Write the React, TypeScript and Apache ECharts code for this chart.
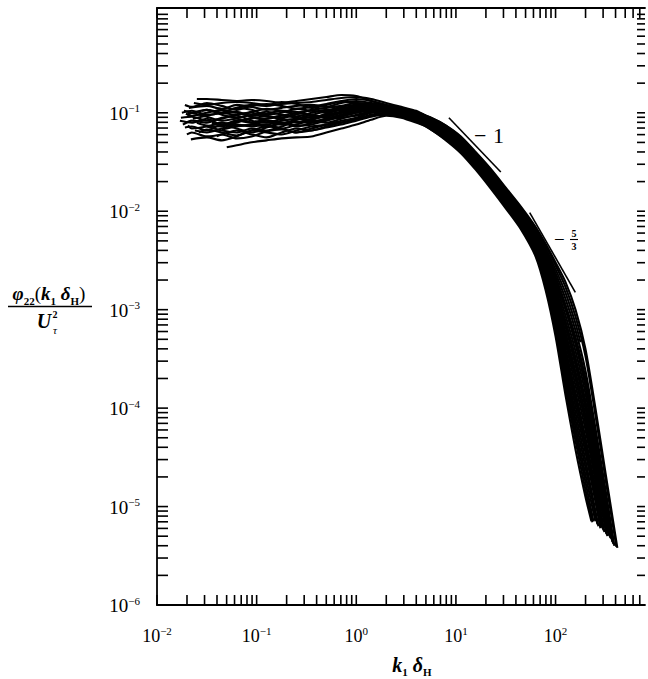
import React, { useEffect, useRef } from "react";
import * as echarts from "echarts";

const SERIF = '"Liberation Serif", "DejaVu Serif", serif';

// Axis ranges: k1·δH (x) and φ22/Uτ² (y)
const kRange = [0.01, 790];
const phiRange = [1e-6, 1.16];
const kLabelDecades = [-2, -1, 0, 1, 2];
const phiLabelDecades = [-6, -5, -4, -3, -2, -1];

// Reference slopes, as (k1δH, φ22/Uτ²) end points
const slopeMinusOne = [[8.5, 0.089], [28.2, 0.025]];
const slopeMinusFiveThirds = [[55, 0.0097], [158, 0.0015]];

// Spectra: each pair is (log10 k1δH, log10 φ22/Uτ²)
const run01 = [[-1.6,-0.86],[-1.5,-0.86],[-1.35,-0.87],[-1.2,-0.88],[-1.05,-0.87],[-0.9,-0.88],[-0.75,-0.9],[-0.6,-0.88],[-0.45,-0.86],[-0.3,-0.84],[-0.15,-0.82],[0,-0.83],[0.15,-0.88],[0.3,-0.92],[0.45,-0.95],[0.6,-1.0],[0.75,-1.05],[0.9,-1.13],[1.05,-1.25],[1.2,-1.41],[1.35,-1.58],[1.5,-1.77],[1.65,-1.96],[1.8,-2.17],[1.9,-2.35],[2.0,-2.55],[2.1,-2.77],[2.2,-3.07],[2.3,-3.47],[2.4,-4.07],[2.5,-4.71],[2.61,-5.41]];
const run02 = [[-1.3,-1.35],[-1.2,-1.33],[-1.05,-1.3],[-0.9,-1.28],[-0.75,-1.26],[-0.6,-1.25],[-0.45,-1.24],[-0.3,-1.2],[-0.15,-1.16],[0,-1.12],[0.15,-1.07],[0.3,-1.03],[0.45,-1.05],[0.6,-1.1],[0.75,-1.16],[0.9,-1.26],[1.05,-1.38],[1.2,-1.55],[1.35,-1.74],[1.5,-1.94],[1.65,-2.15],[1.8,-2.42],[1.9,-2.74],[2.0,-3.18],[2.1,-3.74],[2.2,-4.26],[2.3,-4.75],[2.38,-5.15]];
const run03 = [[-1.75,-1.0],[-1.65,-0.98],[-1.5,-1.02],[-1.35,-1.0],[-1.2,-0.95],[-1.05,-0.97],[-0.9,-1.02],[-0.75,-1.0],[-0.6,-0.96],[-0.45,-0.98],[-0.3,-1.0],[-0.15,-0.96],[0,-0.93],[0.15,-0.92],[0.3,-0.95],[0.45,-0.98],[0.6,-1.02],[0.75,-1.1],[0.9,-1.19],[1.05,-1.3],[1.2,-1.47],[1.35,-1.65],[1.5,-1.84],[1.65,-2.04],[1.8,-2.28],[1.9,-2.51],[2.0,-2.81],[2.1,-3.17],[2.2,-3.56],[2.3,-4.0],[2.4,-4.54],[2.5,-5.11],[2.53,-5.27]];
const run04 = [[-1.77,-1.08],[-1.65,-1.1],[-1.5,-1.06],[-1.35,-1.12],[-1.2,-1.1],[-1.05,-1.05],[-0.9,-1.08],[-0.75,-1.12],[-0.6,-1.07],[-0.45,-1.02],[-0.3,-1.05],[-0.15,-1.02],[0,-0.98],[0.15,-0.97],[0.3,-0.98],[0.45,-1.0],[0.6,-1.05],[0.75,-1.12],[0.9,-1.21],[1.05,-1.34],[1.2,-1.5],[1.35,-1.68],[1.5,-1.88],[1.65,-2.08],[1.8,-2.33],[1.9,-2.6],[2.0,-2.96],[2.1,-3.4],[2.2,-3.84],[2.3,-4.3],[2.4,-4.81],[2.48,-5.24]];
const run05 = [[-1.72,-1.15],[-1.65,-1.14],[-1.5,-1.18],[-1.35,-1.12],[-1.2,-1.16],[-1.05,-1.2],[-0.9,-1.15],[-0.75,-1.1],[-0.6,-1.13],[-0.45,-1.12],[-0.3,-1.08],[-0.15,-1.04],[0,-1.0],[0.15,-0.98],[0.3,-0.97],[0.45,-1.0],[0.6,-1.06],[0.75,-1.14],[0.9,-1.24],[1.05,-1.36],[1.2,-1.53],[1.35,-1.71],[1.5,-1.91],[1.65,-2.12],[1.8,-2.38],[1.9,-2.67],[2.0,-3.07],[2.1,-3.57],[2.2,-4.05],[2.3,-4.53],[2.43,-5.2]];
const run06 = [[-1.7,-1.22],[-1.65,-1.2],[-1.5,-1.24],[-1.35,-1.22],[-1.2,-1.18],[-1.05,-1.22],[-0.9,-1.25],[-0.75,-1.2],[-0.6,-1.16],[-0.45,-1.18],[-0.3,-1.14],[-0.15,-1.1],[0,-1.06],[0.15,-1.02],[0.3,-1.0],[0.45,-1.02],[0.6,-1.07],[0.75,-1.17],[0.9,-1.27],[1.05,-1.39],[1.2,-1.56],[1.35,-1.75],[1.5,-1.95],[1.65,-2.16],[1.8,-2.44],[1.9,-2.76],[2.0,-3.22],[2.1,-3.8],[2.2,-4.33],[2.3,-4.83],[2.37,-5.16]];
const run07 = [[-1.68,-0.95],[-1.5,-0.93],[-1.35,-0.96],[-1.2,-0.92],[-1.05,-0.94],[-0.9,-0.97],[-0.75,-0.95],[-0.6,-0.93],[-0.45,-0.92],[-0.3,-0.94],[-0.15,-0.9],[0,-0.88],[0.15,-0.9],[0.3,-0.93],[0.45,-0.96],[0.6,-1.0],[0.75,-1.07],[0.9,-1.15],[1.05,-1.27],[1.2,-1.43],[1.35,-1.6],[1.5,-1.79],[1.65,-1.98],[1.8,-2.21],[1.9,-2.4],[2.0,-2.63],[2.1,-2.89],[2.2,-3.21],[2.3,-3.62],[2.4,-4.2],[2.5,-4.82],[2.59,-5.4]];
const run08 = [[-1.74,-1.12],[-1.65,-1.08],[-1.5,-1.1],[-1.35,-1.05],[-1.2,-1.03],[-1.05,-1.08],[-0.9,-1.1],[-0.75,-1.06],[-0.6,-1.02],[-0.45,-1.05],[-0.3,-1.02],[-0.15,-0.99],[0,-0.97],[0.15,-0.95],[0.3,-0.96],[0.45,-0.99],[0.6,-1.04],[0.75,-1.11],[0.9,-1.2],[1.05,-1.32],[1.2,-1.49],[1.35,-1.67],[1.5,-1.86],[1.65,-2.06],[1.8,-2.31],[1.9,-2.56],[2.0,-2.89],[2.1,-3.29],[2.2,-3.7],[2.3,-4.15],[2.4,-4.68],[2.51,-5.28]];
const run09 = [[-1.66,-1.27],[-1.5,-1.25],[-1.35,-1.28],[-1.2,-1.24],[-1.05,-1.18],[-0.9,-1.2],[-0.75,-1.22],[-0.6,-1.18],[-0.45,-1.14],[-0.3,-1.12],[-0.15,-1.08],[0,-1.05],[0.15,-1.0],[0.3,-0.99],[0.45,-1.02],[0.6,-1.08],[0.75,-1.15],[0.9,-1.25],[1.05,-1.38],[1.2,-1.55],[1.35,-1.73],[1.5,-1.93],[1.65,-2.14],[1.8,-2.41],[1.9,-2.72],[2.0,-3.14],[2.1,-3.68],[2.2,-4.19],[2.3,-4.68],[2.4,-5.15]];
const run10 = [[-1.55,-0.98],[-1.5,-0.97],[-1.35,-1.0],[-1.2,-1.02],[-1.05,-0.99],[-0.9,-0.96],[-0.75,-0.98],[-0.6,-1.01],[-0.45,-0.97],[-0.3,-0.95],[-0.15,-0.93],[0,-0.9],[0.15,-0.91],[0.3,-0.94],[0.45,-0.97],[0.6,-1.01],[0.75,-1.08],[0.9,-1.17],[1.05,-1.28],[1.2,-1.44],[1.35,-1.62],[1.5,-1.81],[1.65,-2.0],[1.8,-2.24],[1.9,-2.45],[2.0,-2.71],[2.1,-3.0],[2.2,-3.35],[2.3,-3.78],[2.4,-4.34],[2.5,-4.94],[2.57,-5.36]];
const run11 = [[-1.76,-1.05],[-1.65,-1.04],[-1.5,-1.08],[-1.35,-1.06],[-1.2,-1.02],[-1.05,-1.0],[-0.9,-1.04],[-0.75,-1.05],[-0.6,-1.0],[-0.45,-0.98],[-0.3,-0.99],[-0.15,-0.95],[0,-0.94],[0.15,-0.93],[0.3,-0.95],[0.45,-0.98],[0.6,-1.03],[0.75,-1.09],[0.9,-1.18],[1.05,-1.3],[1.2,-1.46],[1.35,-1.64],[1.5,-1.83],[1.65,-2.03],[1.8,-2.27],[1.9,-2.49],[2.0,-2.78],[2.1,-3.12],[2.2,-3.49],[2.3,-3.93],[2.4,-4.48],[2.5,-5.06],[2.55,-5.32]];
const run12 = [[-1.62,-1.18],[-1.5,-1.2],[-1.35,-1.16],[-1.2,-1.12],[-1.05,-1.14],[-0.9,-1.12],[-0.75,-1.16],[-0.6,-1.12],[-0.45,-1.08],[-0.3,-1.1],[-0.15,-1.06],[0,-1.02],[0.15,-0.99],[0.3,-0.98],[0.45,-1.01],[0.6,-1.06],[0.75,-1.13],[0.9,-1.23],[1.05,-1.35],[1.2,-1.52],[1.35,-1.7],[1.5,-1.9],[1.65,-2.1],[1.8,-2.36],[1.9,-2.65],[2.0,-3.03],[2.1,-3.51],[2.2,-3.98],[2.3,-4.45],[2.4,-4.95],[2.45,-5.22]];
const run13 = [[-1.45,-1.1],[-1.35,-1.12],[-1.2,-1.08],[-1.05,-1.1],[-0.9,-1.06],[-0.75,-1.03],[-0.6,-1.05],[-0.45,-1.07],[-0.3,-1.03],[-0.15,-1.0],[0,-0.96],[0.15,-0.94],[0.3,-0.96],[0.45,-0.99],[0.6,-1.04],[0.75,-1.1],[0.9,-1.2],[1.05,-1.31],[1.2,-1.48],[1.35,-1.66],[1.5,-1.85],[1.65,-2.05],[1.8,-2.29],[1.9,-2.53],[2.0,-2.85],[2.1,-3.23],[2.2,-3.63],[2.3,-4.07],[2.4,-4.61],[2.52,-5.27]];
const run14 = [[-1.72,-0.92],[-1.65,-0.94],[-1.5,-0.9],[-1.35,-0.93],[-1.2,-0.97],[-1.05,-0.93],[-0.9,-0.91],[-0.75,-0.93],[-0.6,-0.96],[-0.45,-0.94],[-0.3,-0.91],[-0.15,-0.88],[0,-0.86],[0.15,-0.88],[0.3,-0.92],[0.45,-0.95],[0.6,-0.99],[0.75,-1.05],[0.9,-1.13],[1.05,-1.24],[1.2,-1.4],[1.35,-1.57],[1.5,-1.76],[1.65,-1.95],[1.8,-2.16],[1.9,-2.33],[2.0,-2.52],[2.1,-2.72],[2.2,-3.0],[2.3,-3.4],[2.4,-4.0],[2.5,-4.65],[2.62,-5.42]];
const run15 = [[-1.58,-1.2],[-1.5,-1.17],[-1.35,-1.2],[-1.2,-1.23],[-1.05,-1.18],[-0.9,-1.14],[-0.75,-1.16],[-0.6,-1.2],[-0.45,-1.16],[-0.3,-1.12],[-0.15,-1.1],[0,-1.07],[0.15,-1.03],[0.3,-1.01],[0.45,-1.03],[0.6,-1.08],[0.75,-1.15],[0.9,-1.24],[1.05,-1.37],[1.2,-1.54],[1.35,-1.72],[1.5,-1.92],[1.65,-2.13],[1.8,-2.39],[1.9,-2.69],[2.0,-3.1],[2.1,-3.62],[2.2,-4.12],[2.3,-4.6],[2.42,-5.18]];
const run16 = [[-1.7,-1.02],[-1.65,-1.0],[-1.5,-0.97],[-1.35,-1.02],[-1.2,-1.05],[-1.05,-1.02],[-0.9,-0.99],[-0.75,-1.02],[-0.6,-1.04],[-0.45,-1.0],[-0.3,-0.97],[-0.15,-0.98],[0,-0.95],[0.15,-0.94],[0.3,-0.96],[0.45,-0.98],[0.6,-1.02],[0.75,-1.09],[0.9,-1.17],[1.05,-1.29],[1.2,-1.45],[1.35,-1.63],[1.5,-1.82],[1.65,-2.02],[1.8,-2.25],[1.9,-2.47],[2.0,-2.74],[2.1,-3.06],[2.2,-3.42],[2.3,-3.85],[2.4,-4.41],[2.5,-5.0],[2.56,-5.33]];
const run17 = [[-1.5,-1.14],[-1.35,-1.18],[-1.2,-1.2],[-1.05,-1.16],[-0.9,-1.18],[-0.75,-1.14],[-0.6,-1.09],[-0.45,-1.1],[-0.3,-1.07],[-0.15,-1.03],[0,-1.0],[0.15,-0.97],[0.3,-0.97],[0.45,-1.0],[0.6,-1.05],[0.75,-1.1],[0.9,-1.18],[1.05,-1.3],[1.2,-1.46],[1.35,-1.64],[1.5,-1.84],[1.65,-2.04],[1.8,-2.28],[1.9,-2.51],[2.0,-2.81],[2.1,-3.16],[2.2,-3.55],[2.3,-3.98],[2.37,-4.22]];
const run18 = [[-1.64,-1.06],[-1.5,-1.03],[-1.35,-1.0],[-1.2,-0.99],[-1.05,-1.03],[-0.9,-1.01],[-0.75,-0.98],[-0.6,-0.99],[-0.45,-1.02],[-0.3,-0.98],[-0.15,-0.94],[0,-0.92],[0.15,-0.92],[0.3,-0.94],[0.45,-0.97],[0.6,-1.01],[0.75,-1.07],[0.9,-1.16],[1.05,-1.27],[1.2,-1.43],[1.35,-1.61],[1.5,-1.8],[1.65,-1.99],[1.8,-2.22],[1.9,-2.42],[2.0,-2.67],[2.1,-2.95],[2.2,-3.28],[2.3,-3.7],[2.4,-4.27],[2.5,-4.88],[2.58,-5.37]];
const run19 = [[-1.4,-1.24],[-1.35,-1.22],[-1.2,-1.26],[-1.05,-1.24],[-0.9,-1.19],[-0.75,-1.17],[-0.6,-1.2],[-0.45,-1.18],[-0.3,-1.15],[-0.15,-1.12],[0,-1.08],[0.15,-1.04],[0.3,-1.02],[0.45,-1.04],[0.6,-1.09],[0.75,-1.17],[0.9,-1.28],[1.05,-1.41],[1.2,-1.58],[1.35,-1.77],[1.5,-1.97],[1.65,-2.18],[1.8,-2.46],[1.9,-2.8],[2.0,-3.27],[2.1,-3.87],[2.2,-4.42],[2.3,-4.9],[2.36,-5.15]];
const run20 = [[-1.73,-0.98],[-1.65,-1.0],[-1.5,-1.04],[-1.35,-1.08],[-1.2,-1.06],[-1.05,-1.1],[-0.9,-1.12],[-0.75,-1.08],[-0.6,-1.06],[-0.45,-1.09],[-0.3,-1.06],[-0.15,-1.02],[0,-0.99],[0.15,-0.96],[0.3,-0.96],[0.45,-0.99],[0.6,-1.04],[0.75,-1.11],[0.9,-1.21],[1.05,-1.33],[1.2,-1.5],[1.35,-1.68],[1.5,-1.87],[1.65,-2.07],[1.8,-2.32],[1.9,-2.58],[2.0,-2.92],[2.1,-3.34],[2.2,-3.77],[2.3,-4.22],[2.4,-4.74],[2.49,-5.26]];
const run21 = [[-1.2,-0.95],[-1.05,-0.92],[-0.9,-0.93],[-0.75,-0.91],[-0.6,-0.9],[-0.45,-0.89],[-0.3,-0.87],[-0.15,-0.85],[0,-0.84],[0.15,-0.86],[0.3,-0.9],[0.45,-0.94],[0.6,-0.98],[0.75,-1.06],[0.9,-1.14],[1.05,-1.26],[1.2,-1.42],[1.35,-1.59],[1.5,-1.78],[1.65,-1.97],[1.8,-2.19],[1.9,-2.38],[2.0,-2.59],[2.1,-2.83],[2.2,-3.14],[2.25,-3.33]];
const run22 = [[-1.69,-1.13],[-1.65,-1.16],[-1.5,-1.14],[-1.35,-1.1],[-1.2,-1.13],[-1.05,-1.12],[-0.9,-1.08],[-0.75,-1.1],[-0.6,-1.14],[-0.45,-1.1],[-0.3,-1.06],[-0.15,-1.05],[0,-1.03],[0.15,-1.0],[0.3,-0.98],[0.45,-1.0],[0.6,-1.05],[0.75,-1.13],[0.9,-1.22],[1.05,-1.35],[1.2,-1.51],[1.35,-1.69],[1.5,-1.89],[1.65,-2.09],[1.8,-2.35],[1.9,-2.62],[2.0,-3.0],[2.1,-3.46],[2.2,-3.91],[2.3,-4.38],[2.4,-4.88],[2.46,-5.2]];
const run23 = [[-1.71,-1.01],[-1.65,-1.03],[-1.5,-1.0],[-1.35,-0.97],[-1.2,-1.0],[-1.05,-1.04],[-0.9,-1.06],[-0.75,-1.03],[-0.6,-1.0],[-0.45,-1.03],[-0.3,-1.04],[-0.15,-1.0],[0,-0.97],[0.15,-0.96],[0.3,-0.97],[0.45,-1.0],[0.6,-1.05],[0.75,-1.12],[0.9,-1.22],[1.05,-1.34],[1.2,-1.51],[1.35,-1.69],[1.5,-1.89],[1.65,-2.09],[1.8,-2.34],[1.9,-2.63],[2.0,-3.0],[2.1,-3.45],[2.2,-3.9],[2.3,-4.37],[2.4,-4.87],[2.47,-5.22]];
const run24 = [[-1.6,-1.1],[-1.5,-1.13],[-1.35,-1.14],[-1.2,-1.09],[-1.05,-1.06],[-0.9,-1.03],[-0.75,-1.07],[-0.6,-1.1],[-0.45,-1.06],[-0.3,-1.01],[-0.15,-0.97],[0,-0.95],[0.15,-0.95],[0.3,-0.97],[0.45,-1.0],[0.6,-1.04],[0.75,-1.11],[0.9,-1.2],[1.05,-1.32],[1.2,-1.48],[1.35,-1.66],[1.5,-1.86],[1.65,-2.06],[1.8,-2.3],[1.9,-2.55],[2.0,-2.88],[2.1,-3.27],[2.2,-3.69],[2.3,-4.13],[2.4,-4.66],[2.5,-5.2],[2.52,-5.3]];
const run25 = [[-1.63,-0.9],[-1.5,-0.92],[-1.35,-0.9],[-1.2,-0.89],[-1.05,-0.9],[-0.9,-0.92],[-0.75,-0.89],[-0.6,-0.91],[-0.45,-0.95],[-0.3,-0.92],[-0.15,-0.89],[0,-0.9],[0.15,-0.92],[0.3,-0.95],[0.45,-0.97],[0.6,-1.02],[0.75,-1.09],[0.9,-1.18],[1.05,-1.3],[1.2,-1.46],[1.35,-1.64],[1.5,-1.83],[1.65,-2.03],[1.8,-2.27],[1.9,-2.49],[2.0,-2.79],[2.1,-3.13],[2.2,-3.5],[2.3,-3.95],[2.4,-4.5],[2.5,-5.08],[2.54,-5.3]];
const run26 = [[-1.35,-1.17],[-1.2,-1.14],[-1.05,-1.12],[-0.9,-1.14],[-0.75,-1.11],[-0.6,-1.07],[-0.45,-1.04],[-0.3,-1.03],[-0.15,-1.0],[0,-0.98],[0.15,-0.95],[0.3,-0.94],[0.45,-0.97],[0.6,-1.01],[0.75,-1.07],[0.9,-1.16],[1.05,-1.28],[1.2,-1.44],[1.35,-1.61],[1.5,-1.8],[1.65,-2.0],[1.8,-2.23],[1.9,-2.43],[2.0,-2.68],[2.1,-2.97],[2.2,-3.3],[2.3,-3.72],[2.4,-4.3],[2.5,-4.9],[2.58,-5.38]];

const runs = [run01, run02, run03, run04, run05, run06, run07, run08, run09, run10, run11, run12, run13,
  run14, run15, run16, run17, run18, run19, run20, run21, run22, run23, run24, run25, run26];

function powerLabel(value: number, decades: number[]) {
  const l = Math.log10(value);
  const e = Math.round(l);
  if (Math.abs(l - e) > 1e-6 || !decades.includes(e)) return "";
  return `{b|10}{s|${e < 0 ? "\u2212" + -e : e}}`;
}

// Log-spaced tick marks (1..9 × 10^n) drawn on all four sides
function logTickValues(lo: number, hi: number) {
  const out: number[] = [];
  for (let d = Math.floor(Math.log10(lo)); d <= Math.ceil(Math.log10(hi)); d++) {
    for (let m = 1; m <= 9; m++) {
      const v = m * Math.pow(10, d);
      if (v >= lo * 0.999 && v <= hi) out.push(v);
    }
  }
  return out;
}

export default function App() {
  const ref = useRef<HTMLDivElement>(null);

  useEffect(() => {
    if (!ref.current) return;
    const chart = echarts.init(ref.current, null, { renderer: "svg" });

    const tickData = [
      ...logTickValues(kRange[0], kRange[1]).map((v) => [v, 1e-3, 0]),
      ...logTickValues(phiRange[0], phiRange[1]).map((v) => [1, v, 1]),
    ];

    const lineSeries = runs.map((run) => ({
      type: "line",
      data: run.map(([u, v]) => [Math.pow(10, u), Math.pow(10, v)]),
      showSymbol: false,
      symbol: "none",
      smooth: 0.25,
      silent: true,
      lineStyle: { color: "#000", width: 2.1 },
      emphasis: { disabled: true },
      z: 3,
    }));

    const labelRich = (size: number) => ({
      b: { fontFamily: SERIF, fontSize: size, lineHeight: 20, color: "#000", verticalAlign: "bottom" },
      s: { fontFamily: SERIF, fontSize: 11, lineHeight: 12, color: "#000", verticalAlign: "top" },
    });

    const option: any = {
      animation: false,
      backgroundColor: "#fff",
      textStyle: { fontFamily: SERIF, color: "#000" },
      grid: { left: 157, right: 1, top: 8, bottom: 74, containLabel: false },
      xAxis: [
        {
          type: "log",
          logBase: 10,
          min: kRange[0],
          max: kRange[1],
          position: "bottom",
          axisLine: { show: true, lineStyle: { color: "#000", width: 1.8 } },
          axisTick: { show: false },
          splitLine: { show: false },
          minorTick: { show: false },
          axisLabel: {
            margin: 20,
            fontSize: 18,
            formatter: (v: number) => powerLabel(v, kLabelDecades),
            rich: labelRich(18),
          },
        },
        {
          type: "log",
          logBase: 10,
          min: kRange[0],
          max: kRange[1],
          position: "top",
          axisLine: { show: true, lineStyle: { color: "#000", width: 1.8 } },
          axisTick: { show: false },
          axisLabel: { show: false },
          splitLine: { show: false },
        },
      ],
      yAxis: {
        type: "log",
        logBase: 10,
        min: phiRange[0],
        max: phiRange[1],
        axisLine: { show: true, lineStyle: { color: "#000", width: 1.8 } },
        axisTick: { show: false },
        splitLine: { show: false },
        axisLabel: {
          margin: 17,
          fontSize: 19,
          formatter: (v: number) => powerLabel(v, phiLabelDecades),
          rich: labelRich(19),
        },
      },
      series: [
        {
          type: "custom",
          silent: true,
          xAxisIndex: 0,
          yAxisIndex: 0,
          data: tickData,
          encode: { x: 0, y: 1 },
          z: 2,
          renderItem: (params: any, api: any) => {
            const cs = params.coordSys;
            const left = cs.x;
            const top = cs.y;
            const right = cs.x + cs.width;
            const bottom = cs.y + cs.height;
            const style = { stroke: "#000", lineWidth: 1.6 };
            if (api.value(2) === 0) {
              const x = api.coord([api.value(0), 1e-3])[0];
              return {
                type: "group",
                children: [
                  { type: "line", shape: { x1: x, y1: bottom, x2: x, y2: bottom - 10 }, style },
                  { type: "line", shape: { x1: x, y1: top, x2: x, y2: top + 10 }, style },
                ],
              };
            }
            const y = api.coord([1, api.value(1)])[1];
            return {
              type: "group",
              children: [
                { type: "line", shape: { x1: left, y1: y, x2: left + 11, y2: y }, style },
                { type: "line", shape: { x1: right, y1: y, x2: right - 8, y2: y }, style },
              ],
            };
          },
        },
        ...lineSeries,
        {
          type: "line",
          data: slopeMinusOne,
          showSymbol: false,
          symbol: "none",
          silent: true,
          lineStyle: { color: "#000", width: 1.6 },
          z: 4,
        },
        {
          type: "line",
          data: slopeMinusFiveThirds,
          showSymbol: false,
          symbol: "none",
          silent: true,
          lineStyle: { color: "#000", width: 1.6 },
          z: 4,
        },
      ],
      graphic: [
        // x-axis title: k1 δH
        {
          type: "text",
          x: 412,
          y: 666,
          style: {
            text: "{i|k}{s|1}{i| δ}{s|H}",
            align: "center",
            verticalAlign: "middle",
            rich: {
              i: { fontFamily: SERIF, fontStyle: "italic", fontWeight: "bold", fontSize: 20, lineHeight: 22, fill: "#000", verticalAlign: "top" },
              s: { fontFamily: SERIF, fontWeight: "bold", fontSize: 11, lineHeight: 12, fill: "#000", verticalAlign: "bottom" },
            },
          },
        },
        // y-axis title: φ22(k1 δH) / Uτ²
        {
          type: "text",
          x: 49,
          y: 295,
          style: {
            text: "{i|φ}{s|22}{n|(}{i|k}{s|1}{i| δ}{s|H}{n|)}",
            align: "center",
            verticalAlign: "middle",
            rich: {
              i: { fontFamily: SERIF, fontStyle: "italic", fontWeight: "bold", fontSize: 19, lineHeight: 22, fill: "#000", verticalAlign: "top" },
              n: { fontFamily: SERIF, fontSize: 19, lineHeight: 22, fill: "#000", verticalAlign: "top" },
              s: { fontFamily: SERIF, fontWeight: "bold", fontSize: 11, lineHeight: 12, fill: "#000", verticalAlign: "bottom" },
            },
          },
        },
        {
          type: "line",
          shape: { x1: 8, y1: 306.5, x2: 92, y2: 306.5 },
          style: { stroke: "#000", lineWidth: 1.4 },
        },
        {
          type: "text",
          x: 44,
          y: 321,
          style: {
            text: "U",
            fontFamily: SERIF,
            fontStyle: "italic",
            fontWeight: "bold",
            fontSize: 20,
            fill: "#000",
            align: "center",
            verticalAlign: "middle",
          },
        },
        {
          type: "text",
          x: 55,
          y: 314.5,
          style: { text: "2", fontFamily: SERIF, fontWeight: "bold", fontSize: 10, fill: "#000", align: "center", verticalAlign: "middle" },
        },
        {
          type: "text",
          x: 55,
          y: 330,
          style: { text: "τ", fontFamily: SERIF, fontStyle: "italic", fontSize: 11, fill: "#000", align: "center", verticalAlign: "middle" },
        },
        // slope annotations
        {
          type: "text",
          x: 474,
          y: 135,
          style: { text: "\u2212", fontFamily: SERIF, fontSize: 22, fill: "#000", align: "left", verticalAlign: "middle" },
        },
        {
          type: "text",
          x: 493,
          y: 135,
          style: { text: "1", fontFamily: SERIF, fontSize: 22, fill: "#000", align: "left", verticalAlign: "middle" },
        },
        {
          type: "text",
          x: 554,
          y: 239,
          style: { text: "\u2212", fontFamily: SERIF, fontSize: 19, fill: "#000", align: "left", verticalAlign: "middle" },
        },
        {
          type: "text",
          x: 574,
          y: 233.5,
          style: { text: "5", fontFamily: SERIF, fontWeight: "bold", fontSize: 10, fill: "#000", align: "center", verticalAlign: "middle" },
        },
        {
          type: "line",
          shape: { x1: 570, y1: 239.5, x2: 578, y2: 239.5 },
          style: { stroke: "#000", lineWidth: 1.1 },
        },
        {
          type: "text",
          x: 574,
          y: 246,
          style: { text: "3", fontFamily: SERIF, fontWeight: "bold", fontSize: 10, fill: "#000", align: "center", verticalAlign: "middle" },
        },
      ],
    };

    chart.setOption(option);
    return () => chart.dispose();
  }, []);

  return (
    <div
      ref={ref}
      style={{ position: "fixed", left: 0, top: 0, width: 648, height: 679, background: "#fff" }}
    />
  );
}
